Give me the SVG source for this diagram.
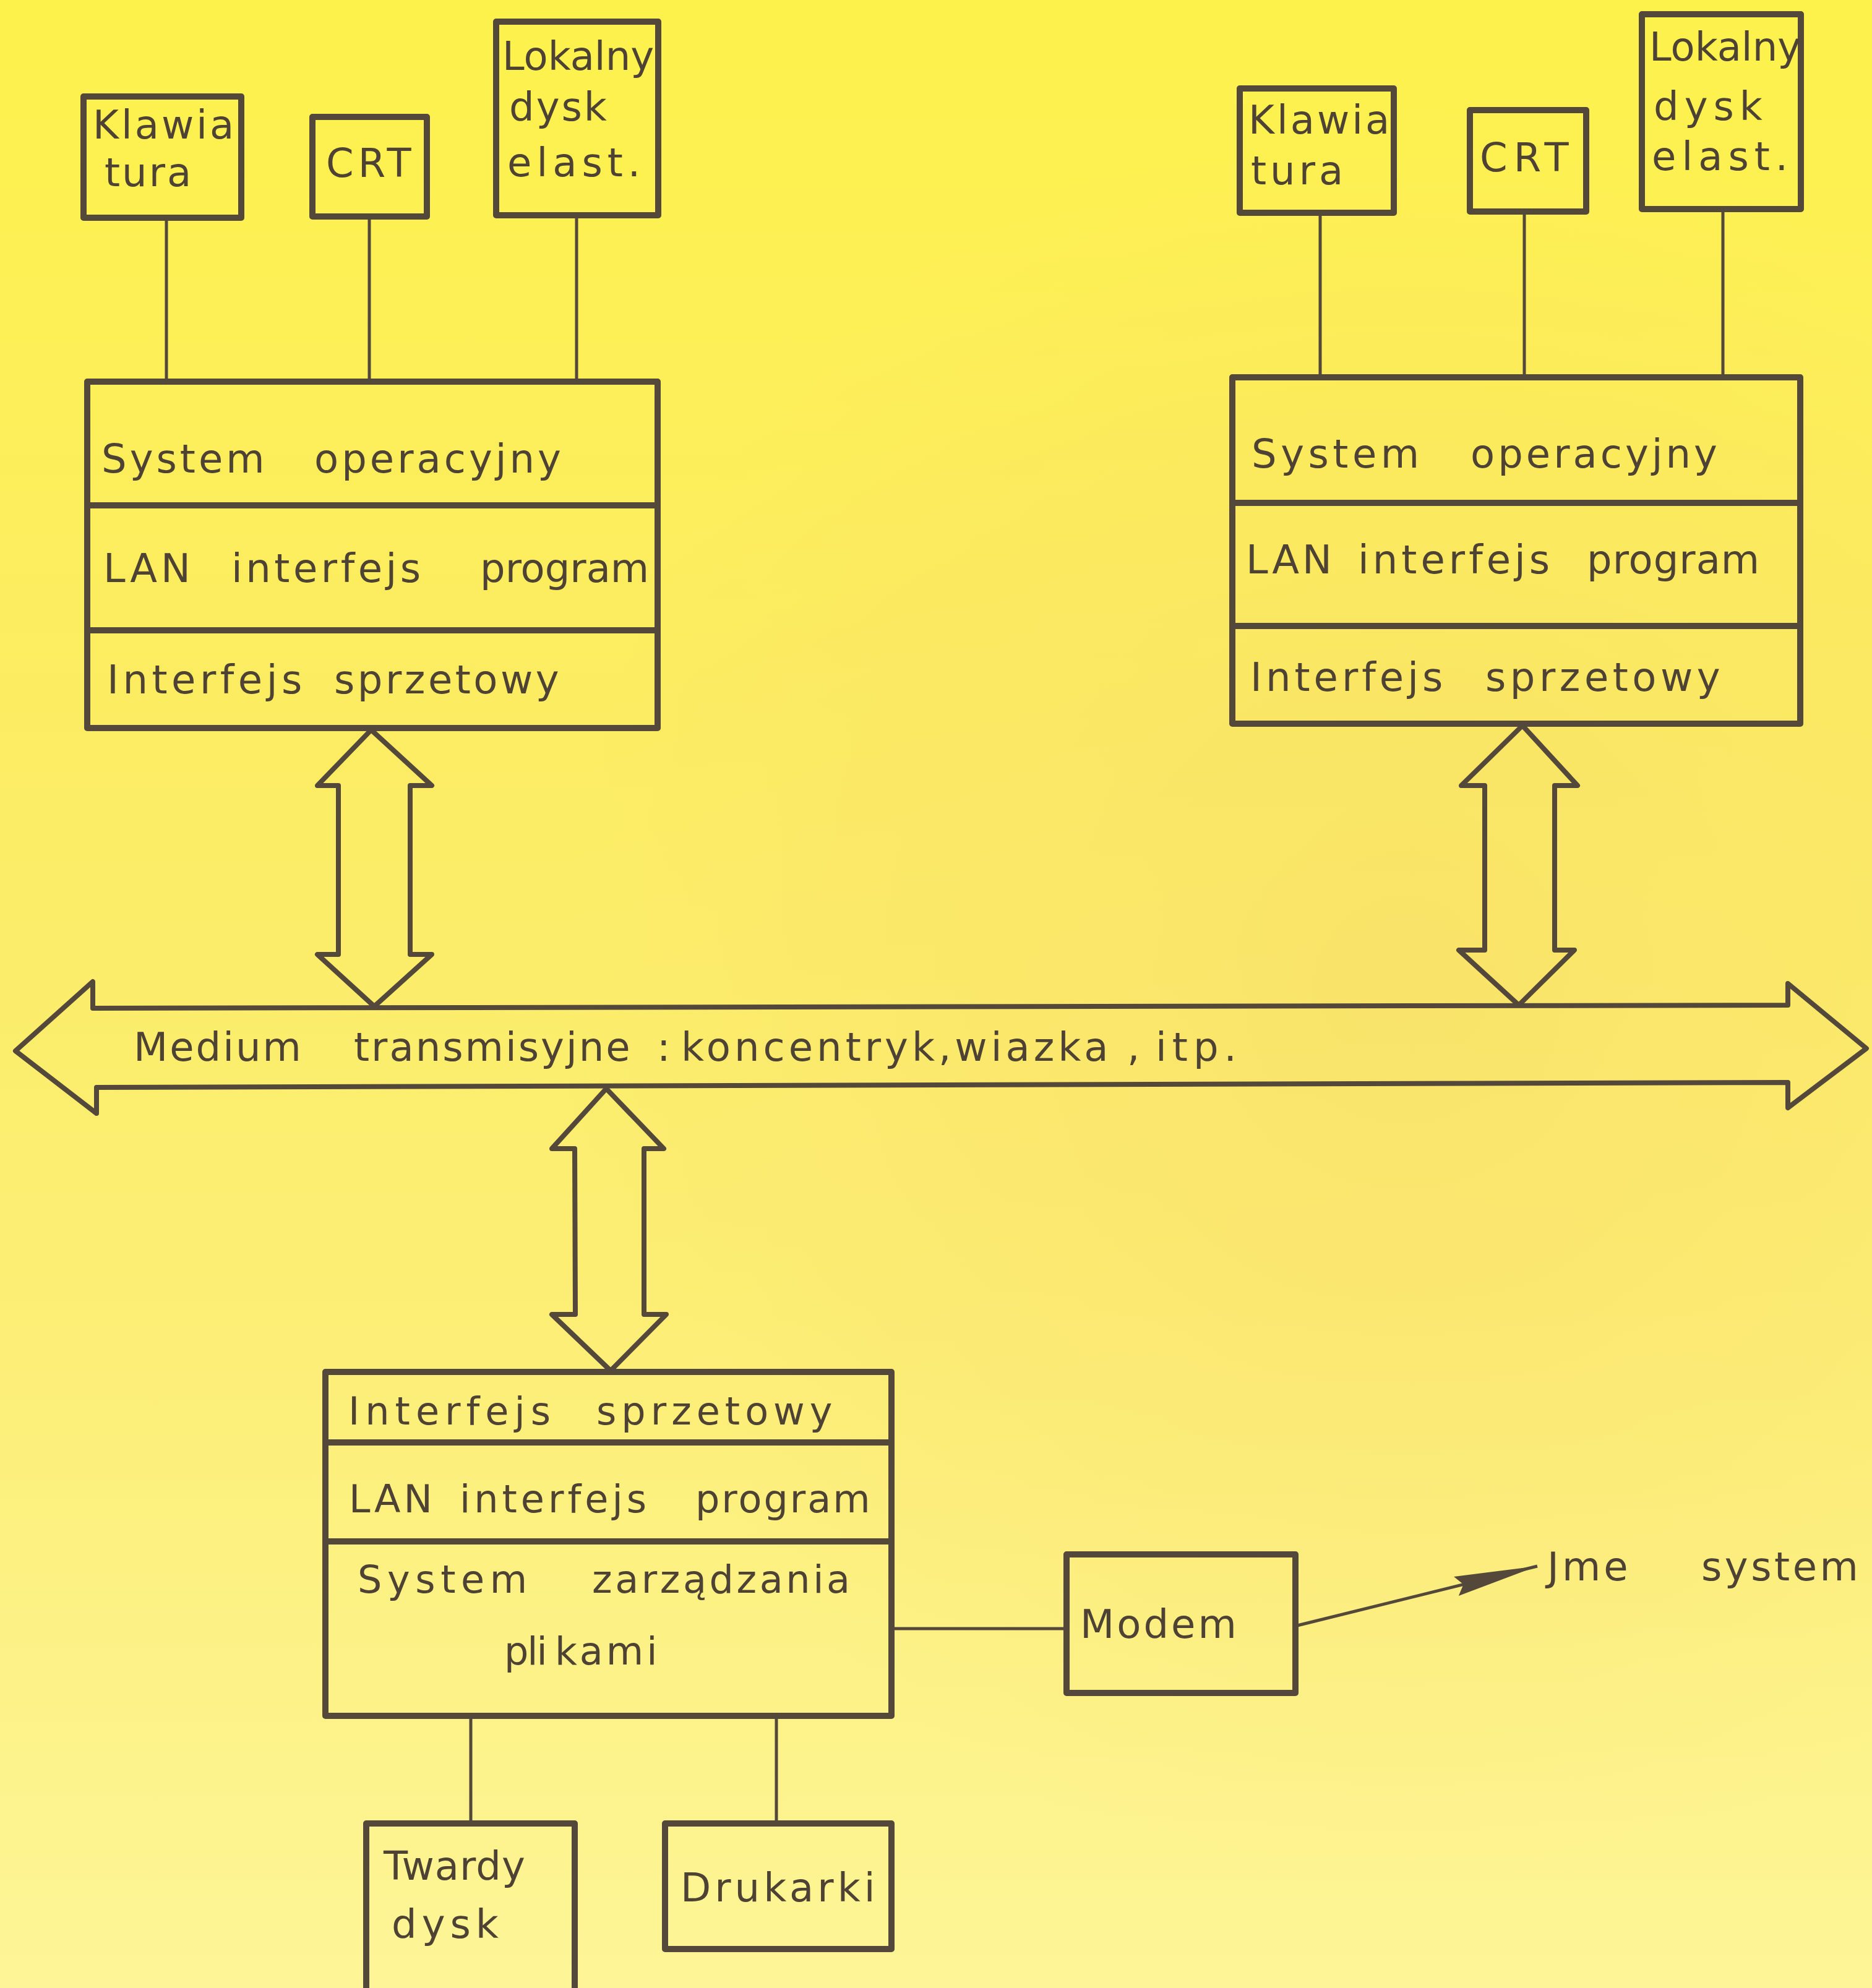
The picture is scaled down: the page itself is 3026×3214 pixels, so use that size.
<svg xmlns="http://www.w3.org/2000/svg" width="3026" height="3214" viewBox="0 0 3026 3214">
<defs>
<linearGradient id="bg" x1="0" y1="0" x2="0" y2="1">
<stop offset="0" stop-color="#fdf24c"/>
<stop offset="0.35" stop-color="#fbec62"/>
<stop offset="0.65" stop-color="#fcee74"/>
<stop offset="1" stop-color="#fdf597"/>
</linearGradient>
<radialGradient id="tint" cx="0.75" cy="0.5" r="0.45">
<stop offset="0" stop-color="#f7d868" stop-opacity="0.45"/>
<stop offset="1" stop-color="#f7d868" stop-opacity="0"/>
</radialGradient>
<marker id="ah" markerUnits="userSpaceOnUse" markerWidth="140" markerHeight="40" viewBox="0 0 140 40" refX="135" refY="20" orient="auto">
<path d="M0,4 L135,20 L0,36 L12,20 Z" fill="#54483a"/>
</marker>
<style>
.box{fill:none;stroke:#54483a;stroke-width:10;stroke-linejoin:round}
.div{stroke:#54483a;stroke-width:10}
.ln{stroke:#54483a;stroke-width:5;fill:none}
.arr{fill:none;stroke:#54483a;stroke-width:8;stroke-linejoin:round}
.t{font-family:"DejaVu Sans","Liberation Sans",sans-serif;font-size:64px;fill:#4d4233}
.s{font-size:62px}
</style>
</defs>
<rect width="3026" height="3214" fill="url(#bg)"/>
<rect width="3026" height="3214" fill="url(#tint)"/>

<g id="connectors">
<line class="ln" x1="269" y1="352" x2="269" y2="617"/>
<line class="ln" x1="597" y1="350" x2="597" y2="617"/>
<line class="ln" x1="932" y1="348" x2="932" y2="617"/>
<line class="ln" x1="2134" y1="344" x2="2134" y2="610"/>
<line class="ln" x1="2464" y1="342" x2="2464" y2="610"/>
<line class="ln" x1="2785" y1="338" x2="2785" y2="610"/>
<polygon class="arr" points="600,1180 698,1270 663,1270 663,1543 698,1543 605,1627 513,1543 547,1543 547,1270 513,1270"/>
<polygon class="arr" points="2461,1173 2550,1270 2513,1270 2513,1536 2545,1536 2455,1625 2358,1536 2400,1536 2400,1270 2362,1270"/>
<polygon class="arr" points="980,1760 1073,1857 1041,1857 1041,2125 1077,2125 987,2216 892,2125 930,2125 929,1857 892,1857"/>
<line class="ln" x1="761" y1="2774" x2="761" y2="2948"/>
<line class="ln" x1="1255" y1="2774" x2="1255" y2="2948"/>
<line class="ln" x1="1441" y1="2633" x2="1724" y2="2633"/>
<line class="ln" x1="2097" y1="2628" x2="2485" y2="2532" stroke-width="6" marker-end="url(#ah)"/>
</g>

<g id="klawiatura-1">
<rect class="box" x="135" y="156" width="255" height="196"/>
<text class="t" x="150" y="224" letter-spacing="4">Klawia</text>
<text class="t" x="169" y="301" letter-spacing="3">tura</text>
</g>
<g id="crt-1">
<rect class="box" x="505" y="189" width="185" height="161"/>
<text class="t" x="527" y="286" letter-spacing="7">CRT</text>
</g>
<g id="dysk-elast-1">
<rect class="box" x="802" y="35" width="262" height="313"/>
<text class="t" x="812" y="113">Lokalny</text>
<text class="t" x="823" y="195" letter-spacing="3">dysk</text>
<text class="t" x="820" y="285" letter-spacing="8">elast.</text>
</g>
<g id="stacja-1">
<rect class="box" x="141" y="617" width="922" height="560"/>
<line class="div" x1="141" y1="817" x2="1063" y2="817"/>
<line class="div" x1="141" y1="1019" x2="1063" y2="1019"/>
<text class="t" y="764"><tspan x="164" letter-spacing="5">System </tspan><tspan x="508" letter-spacing="5">operacyjny</tspan></text>
<text class="t" y="941"><tspan x="167" letter-spacing="6">LAN </tspan><tspan x="374" letter-spacing="5.5">interfejs </tspan><tspan x="776" letter-spacing="0">program</tspan></text>
<text class="t" y="1121"><tspan x="173" letter-spacing="6.5">Interfejs </tspan><tspan x="540" letter-spacing="4.5">sprzetowy</tspan></text>
</g>

<g id="klawiatura-2">
<rect class="box" x="2004" y="143" width="249" height="201"/>
<text class="t" x="2018" y="216" letter-spacing="4">Klawia</text>
<text class="t" x="2022" y="298" letter-spacing="6">tura</text>
</g>
<g id="crt-2">
<rect class="box" x="2376" y="178" width="188" height="164"/>
<text class="t" x="2392" y="277" letter-spacing="10">CRT</text>
</g>
<g id="dysk-elast-2">
<rect class="box" x="2654" y="23" width="257" height="315"/>
<text class="t" x="2666" y="98">Lokalny</text>
<text class="t" x="2673" y="194" letter-spacing="9">dysk</text>
<text class="t" x="2670" y="275" letter-spacing="9">elast.</text>
</g>
<g id="stacja-2">
<rect class="box" x="1992" y="610" width="918" height="560"/>
<line class="div" x1="1992" y1="813" x2="2910" y2="813"/>
<line class="div" x1="1992" y1="1012" x2="2910" y2="1012"/>
<text class="t" y="756"><tspan x="2023" letter-spacing="6.5">System </tspan><tspan x="2377" letter-spacing="5">operacyjny</tspan></text>
<text class="t" y="927"><tspan x="2014" letter-spacing="5">LAN </tspan><tspan x="2195" letter-spacing="6">interfejs </tspan><tspan x="2565" letter-spacing="1">program</tspan></text>
<text class="t" y="1117"><tspan x="2021" letter-spacing="6">Interfejs </tspan><tspan x="2401" letter-spacing="6.5">sprzetowy</tspan></text>
</g>

<g id="medium">
<polygon class="arr" points="25,1699 150,1587 150,1630 2890,1625 2890,1590 3017,1695 2890,1791 2890,1750 156,1758 156,1800"/>
<text class="t" y="1715"><tspan x="216" letter-spacing="3">Medium </tspan><tspan x="572" letter-spacing="3">transmisyjne </tspan><tspan x="1062">: </tspan><tspan x="1101" letter-spacing="6">koncentryk,wiazka </tspan><tspan x="1822">, </tspan><tspan x="1868" letter-spacing="9">itp.</tspan></text>
</g>

<g id="serwer">
<rect class="box" x="526" y="2218" width="915" height="556"/>
<line class="div" x1="526" y1="2332" x2="1441" y2="2332"/>
<line class="div" x1="526" y1="2492" x2="1441" y2="2492"/>
<text class="t s" y="2303"><tspan x="563" letter-spacing="9">Interfejs </tspan><tspan x="964" letter-spacing="8">sprzetowy</tspan></text>
<text class="t s" y="2445"><tspan x="564" letter-spacing="5">LAN </tspan><tspan x="743" letter-spacing="6">interfejs </tspan><tspan x="1124" letter-spacing="3">program</tspan></text>
<text class="t s" y="2575"><tspan x="578" letter-spacing="8.6">System </tspan><tspan x="957" letter-spacing="4.6">zarządzania</tspan></text>
<text class="t s" y="2691"><tspan x="815" letter-spacing="-2">pli </tspan><tspan x="897" letter-spacing="5">kami</tspan></text>
</g>

<g id="modem">
<rect class="box" x="1724" y="2513" width="370" height="224"/>
<text class="t" x="1746" y="2648" letter-spacing="4">Modem</text>
</g>
<g id="inne-systemy">
<text class="t" y="2555"><tspan x="2501" letter-spacing="5">Jme </tspan><tspan x="2750" letter-spacing="4.5">system</tspan></text>
</g>

<g id="twardy-dysk">
<rect class="box" x="592" y="2948" width="337" height="320"/>
<text class="t" x="620" y="3039" letter-spacing="1">Twardy</text>
<text class="t" x="633" y="3133" letter-spacing="8">dysk</text>
</g>
<g id="drukarki">
<rect class="box" x="1075" y="2948" width="366" height="203"/>
<text class="t" x="1100" y="3074" letter-spacing="6">Drukarki</text>
</g>
</svg>
